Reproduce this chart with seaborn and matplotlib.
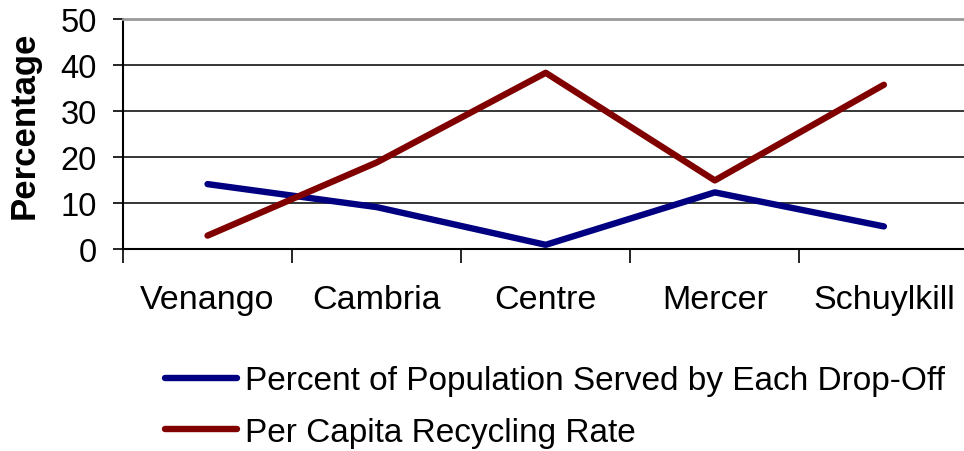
import pandas as pd
import matplotlib
matplotlib.use("Agg")
import matplotlib.pyplot as plt
import seaborn as sns

counties = ["Venango", "Cambria", "Centre", "Mercer", "Schuylkill"]
pct_served = [14.1, 9.1, 0.9, 12.3, 4.9]
per_capita = [2.9, 18.8, 38.3, 14.9, 35.7]
series_names = ["Percent of Population Served by Each Drop-Off",
                "Per Capita Recycling Rate"]
y_ticks = [0, 10, 20, 30, 40, 50]

sns.set_theme(style="white")
plt.rcParams['font.family'] = ['Liberation Sans', 'DejaVu Sans']
plt.rcParams['text.color'] = 'black'

df = pd.DataFrame({
    "county": counties * 2,
    "value": pct_served + per_capita,
    "series": [series_names[0]] * len(counties) + [series_names[1]] * len(counties),
})

fig = plt.figure(figsize=(9.64, 4.52), dpi=100)
ax = fig.add_axes([0.1276, 0.447, 0.877, 0.5088])

sns.lineplot(
    data=df, x="county", y="value", hue="series",
    palette=["#000080", "#800000"], sort=False,
    linewidth=4.6, solid_capstyle="round", ax=ax,
)

ax.set_xlim(-0.5, len(counties) - 0.5)
ax.set_ylim(0, 50)
ax.set_yticks(y_ticks)
ax.set_yticklabels([str(t) for t in y_ticks], fontsize=23.5, color="black")
ax.set_xticks(range(len(counties)))
ax.set_xticklabels(counties, fontsize=24.5, color="black")
ax.set_xticks([i - 0.5 for i in range(len(counties) + 1)], minor=True)
ax.tick_params(axis="x", which="major", length=0, pad=25)
ax.tick_params(axis="x", which="minor", length=10, width=1.2, color="black", direction="out", bottom=True)
ax.tick_params(axis="y", length=7, width=1.2, color="black", direction="out", left=True, pad=12)

ax.set_xlabel("")
ax.set_ylabel("Percentage", fontsize=25, fontweight="bold", color="black")
ax.yaxis.set_label_coords(-0.097, 0.54)

for t in [10, 20, 30, 40]:
    ax.axhline(t, color="black", linewidth=1.1, zorder=0)

ax.spines["top"].set_visible(True)
ax.spines["top"].set_color("#999999")
ax.spines["top"].set_linewidth(2)
ax.spines["right"].set_visible(False)
ax.spines["left"].set_color("black")
ax.spines["left"].set_linewidth(1.5)
ax.spines["bottom"].set_color("black")
ax.spines["bottom"].set_linewidth(1.5)

leg = ax.legend(
    loc="upper left", frameon=False, fontsize=24, handlelength=2.15,
    handletextpad=0.24, labelspacing=0.62, borderaxespad=0,
)
leg.set_bbox_to_anchor((152 / 964, 1 - 353 / 452), transform=fig.transFigure)
for text in leg.get_texts():
    text.set_color("black")
for line in leg.get_lines():
    line.set_linewidth(4.6)
    line.set_solid_capstyle("round")

fig.savefig("out.png", dpi=100, facecolor="white")
plt.close(fig)
